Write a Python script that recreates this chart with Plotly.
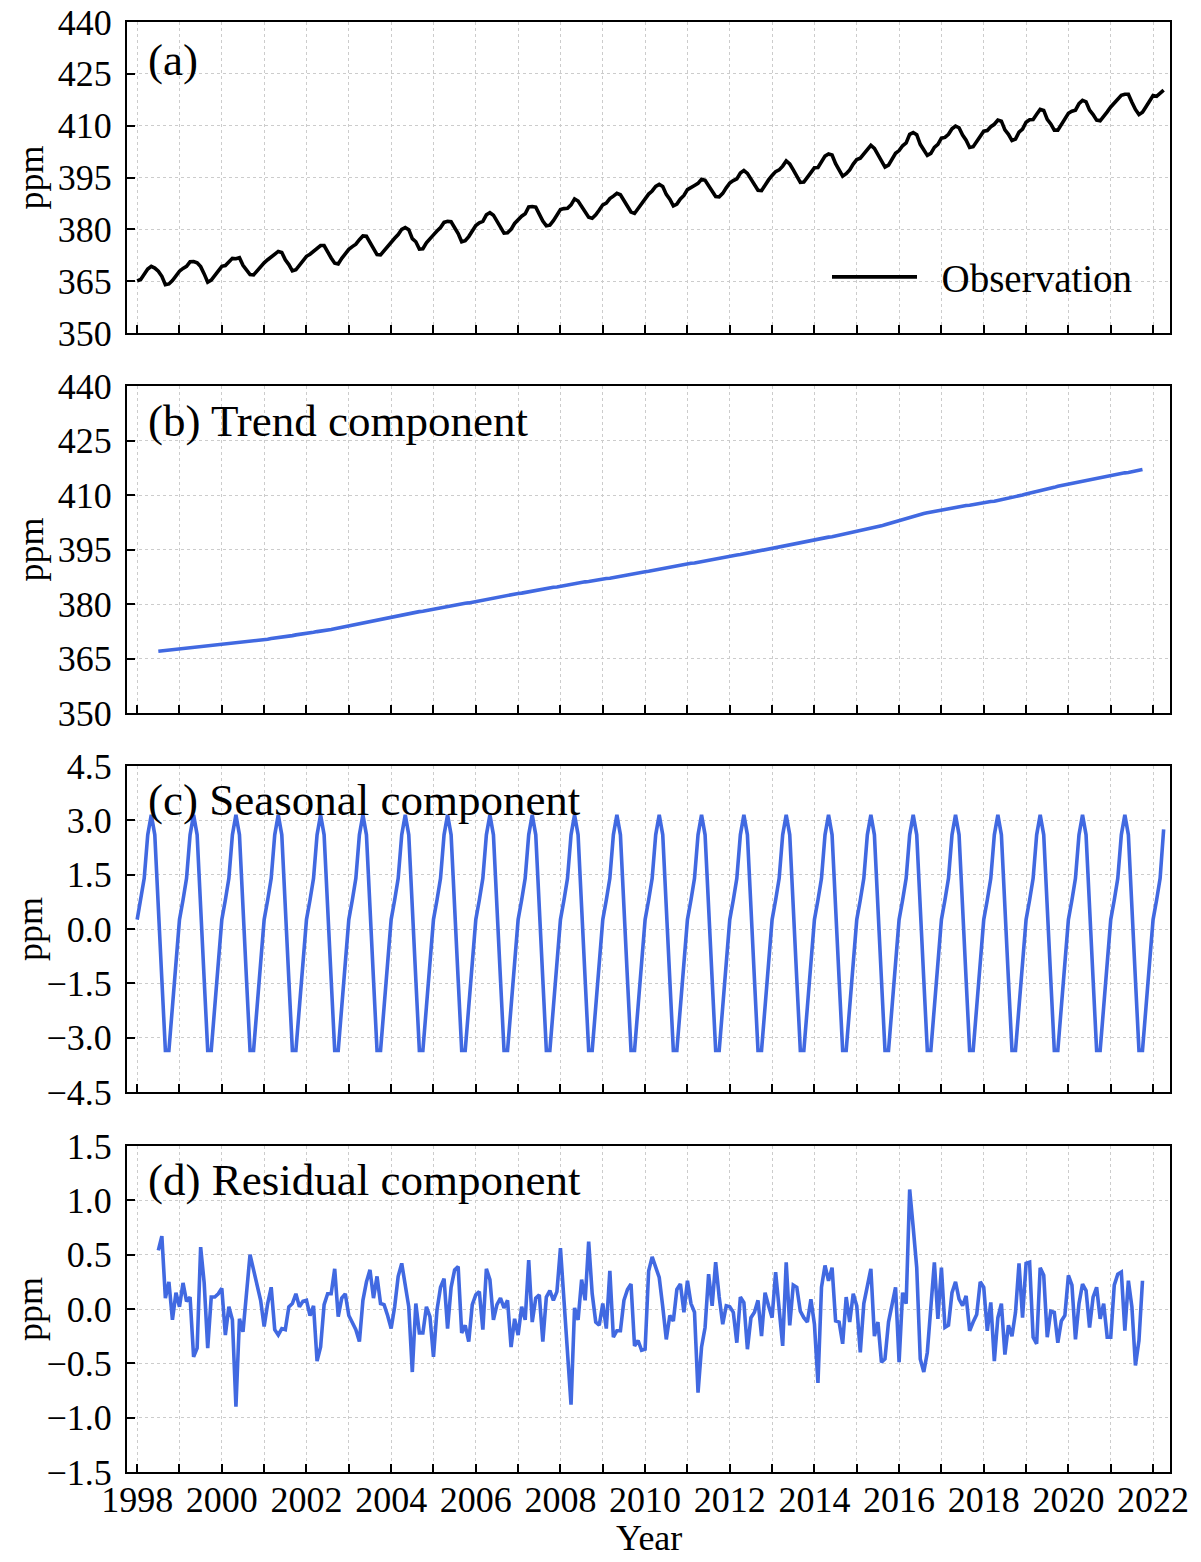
import plotly.graph_objects as go
from plotly.subplots import make_subplots

# ---------------- data (monthly) ----------------
OBS_START = 1998.0    # Jan 1998
COMP_START = 1998.5   # Jul 1998 (trend / residual)

observation = [
    365.1, 365.5, 367.0, 368.5, 369.3, 368.8, 367.9, 366.4, 364.0, 364.2, 365.2, 366.7,  # 1998
    367.9, 368.7, 369.3, 370.6, 370.7, 370.3, 369.2, 367.1, 364.7, 365.3, 366.6, 367.9,  # 1999
    369.3, 369.5, 370.4, 371.6, 371.5, 371.8, 369.6, 368.3, 366.9, 366.8, 368.0, 369.2,  # 2000
    370.3, 371.2, 372.1, 373.0, 373.6, 373.3, 371.2, 369.8, 368.0, 368.3, 369.5, 370.9,  # 2001
    372.2, 372.8, 373.6, 374.5, 375.3, 375.3, 373.3, 371.7, 370.2, 370.0, 371.6, 373.0,  # 2002
    374.2, 375.0, 375.7, 377.0, 378.1, 378.0, 376.1, 374.2, 372.7, 372.6, 373.9, 375.2,  # 2003
    376.5, 377.4, 378.5, 380.0, 380.5, 379.9, 377.3, 376.4, 374.3, 374.4, 376.1, 377.4,  # 2004
    378.4, 379.5, 380.5, 382.0, 382.3, 382.2, 380.4, 378.8, 376.4, 376.7, 377.9, 379.6,  # 2005
    381.1, 381.9, 382.3, 384.2, 384.8, 384.1, 382.2, 380.7, 378.9, 379.0, 380.0, 381.7,  # 2006
    382.9, 383.8, 384.5, 386.5, 386.6, 386.4, 384.4, 382.4, 381.0, 381.2, 382.5, 383.9,  # 2007
    385.7, 386.0, 386.1, 387.1, 388.8, 388.2, 386.6, 384.8, 383.5, 383.2, 384.2, 385.6,  # 2008
    387.1, 387.6, 388.9, 389.6, 390.4, 390.0, 388.2, 386.7, 385.0, 384.6, 386.1, 387.4,  # 2009
    388.8, 390.2, 391.1, 392.4, 393.0, 392.4, 390.1, 388.7, 386.8, 387.3, 388.8, 389.8,  # 2010
    391.5, 392.0, 392.7, 393.3, 394.5, 394.2, 392.7, 390.8, 389.5, 389.4, 390.4, 392.0,  # 2011
    393.4, 394.1, 394.6, 396.3, 397.0, 396.2, 394.5, 393.0, 391.3, 391.2, 393.0, 394.3,  # 2012
    395.6, 396.7, 397.2, 398.3, 399.8, 398.9, 397.2, 395.6, 393.6, 393.7, 395.0, 396.6,  # 2013
    397.8, 397.9, 399.6, 401.2, 401.8, 401.5, 399.0, 397.4, 395.4, 396.1, 397.2, 398.9,  # 2014
    400.2, 400.6, 401.9, 403.4, 404.3, 403.4, 401.5, 399.6, 398.0, 398.6, 400.3, 402.0,  # 2015
    402.8, 404.2, 405.0, 407.5, 408.0, 407.4, 404.6, 402.9, 401.4, 402.0, 403.7, 404.6,  # 2016
    406.4, 406.6, 407.5, 409.1, 409.9, 409.4, 407.3, 405.8, 403.7, 403.9, 405.3, 407.0,  # 2017
    408.4, 408.6, 409.7, 410.4, 411.6, 411.3, 408.8, 407.5, 405.7, 406.1, 408.1, 409.0,  # 2018
    411.0, 411.7, 411.8, 413.3, 414.7, 414.4, 411.8, 410.5, 408.7, 408.7, 410.3, 411.8,  # 2019
    413.6, 414.2, 414.5, 416.4, 417.3, 416.9, 414.5, 413.2, 411.6, 411.4, 412.9, 414.0,  # 2020
    415.4, 416.5, 417.4, 418.8, 419.1, 419.1, 416.8, 414.7, 413.2, 413.9, 415.5, 417.0,  # 2021
    418.7, 418.5, 419.4, 420.3,                                                          # 2022
]

trend = [
    367.0, 367.1, 367.2, 367.3, 367.4, 367.5,                                            # 1998 Jul-Dec
    367.6, 367.7, 367.8, 367.9, 368.0, 368.1, 368.2, 368.3, 368.4, 368.5, 368.6, 368.7,  # 1999
    368.8, 368.9, 369.0, 369.1, 369.2, 369.3, 369.4, 369.5, 369.7, 369.8, 369.9, 370.1,  # 2000
    370.2, 370.3, 370.5, 370.6, 370.7, 370.9, 371.0, 371.2, 371.3, 371.5, 371.6, 371.8,  # 2001
    371.9, 372.1, 372.2, 372.4, 372.5, 372.7, 372.8, 373.0, 373.2, 373.4, 373.6, 373.8,  # 2002
    374.0, 374.3, 374.5, 374.7, 374.9, 375.1, 375.3, 375.5, 375.7, 375.9, 376.0, 376.2,  # 2003
    376.4, 376.6, 376.8, 377.0, 377.1, 377.3, 377.5, 377.7, 377.9, 378.0, 378.2, 378.4,  # 2004
    378.6, 378.7, 378.9, 379.1, 379.3, 379.4, 379.6, 379.8, 380.0, 380.2, 380.3, 380.5,  # 2005
    380.7, 380.9, 381.1, 381.2, 381.4, 381.6, 381.8, 382.0, 382.2, 382.3, 382.5, 382.7,  # 2006
    382.9, 383.0, 383.2, 383.4, 383.6, 383.7, 383.9, 384.1, 384.2, 384.4, 384.6, 384.7,  # 2007
    384.9, 385.1, 385.2, 385.4, 385.6, 385.7, 385.9, 386.1, 386.2, 386.4, 386.5, 386.7,  # 2008
    386.8, 387.0, 387.1, 387.3, 387.4, 387.6, 387.7, 387.9, 388.1, 388.3, 388.5, 388.7,  # 2009
    388.9, 389.0, 389.2, 389.4, 389.6, 389.8, 390.0, 390.2, 390.3, 390.5, 390.7, 390.8,  # 2010
    391.0, 391.2, 391.3, 391.5, 391.7, 391.8, 392.0, 392.2, 392.4, 392.6, 392.7, 392.9,  # 2011
    393.1, 393.3, 393.5, 393.6, 393.8, 394.0, 394.2, 394.4, 394.6, 394.8, 395.0, 395.2,  # 2012
    395.4, 395.6, 395.8, 396.0, 396.2, 396.4, 396.6, 396.8, 397.0, 397.1, 397.3, 397.5,  # 2013
    397.7, 397.8, 398.0, 398.2, 398.4, 398.5, 398.7, 398.9, 399.1, 399.3, 399.5, 399.7,  # 2014
    399.9, 400.2, 400.4, 400.6, 400.8, 401.0, 401.2, 401.5, 401.8, 402.1, 402.4, 402.7,  # 2015
    403.0, 403.2, 403.5, 403.8, 404.1, 404.4, 404.7, 404.9, 405.1, 405.3, 405.4, 405.6,  # 2016
    405.8, 406.0, 406.2, 406.3, 406.5, 406.7, 406.9, 407.1, 407.2, 407.4, 407.5, 407.7,  # 2017
    407.9, 408.0, 408.2, 408.3, 408.5, 408.6, 408.8, 409.0, 409.3, 409.5, 409.8, 410.0,  # 2018
    410.3, 410.5, 410.7, 411.0, 411.2, 411.5, 411.7, 411.9, 412.1, 412.4, 412.6, 412.8,  # 2019
    413.0, 413.2, 413.4, 413.7, 413.9, 414.1, 414.3, 414.5, 414.7, 414.8, 415.0, 415.2,  # 2020
    415.4, 415.5, 415.7, 415.9, 416.1, 416.2, 416.4, 416.6, 416.8, 417.0,                # 2021 Jan-Oct
]

seasonal = [
    0.26, 0.8, 1.4, 2.6, 3.15, 2.6, 0.4, -1.4, -3.35, -3.35, -2.15, -0.95,  # 1998
    0.26, 0.8, 1.4, 2.6, 3.15, 2.6, 0.4, -1.4, -3.35, -3.35, -2.15, -0.95,  # 1999
    0.26, 0.8, 1.4, 2.6, 3.15, 2.6, 0.4, -1.4, -3.35, -3.35, -2.15, -0.95,  # 2000
    0.26, 0.8, 1.4, 2.6, 3.15, 2.6, 0.4, -1.4, -3.35, -3.35, -2.15, -0.95,  # 2001
    0.26, 0.8, 1.4, 2.6, 3.15, 2.6, 0.4, -1.4, -3.35, -3.35, -2.15, -0.95,  # 2002
    0.26, 0.8, 1.4, 2.6, 3.15, 2.6, 0.4, -1.4, -3.35, -3.35, -2.15, -0.95,  # 2003
    0.26, 0.8, 1.4, 2.6, 3.15, 2.6, 0.4, -1.4, -3.35, -3.35, -2.15, -0.95,  # 2004
    0.26, 0.8, 1.4, 2.6, 3.15, 2.6, 0.4, -1.4, -3.35, -3.35, -2.15, -0.95,  # 2005
    0.26, 0.8, 1.4, 2.6, 3.15, 2.6, 0.4, -1.4, -3.35, -3.35, -2.15, -0.95,  # 2006
    0.26, 0.8, 1.4, 2.6, 3.15, 2.6, 0.4, -1.4, -3.35, -3.35, -2.15, -0.95,  # 2007
    0.26, 0.8, 1.4, 2.6, 3.15, 2.6, 0.4, -1.4, -3.35, -3.35, -2.15, -0.95,  # 2008
    0.26, 0.8, 1.4, 2.6, 3.15, 2.6, 0.4, -1.4, -3.35, -3.35, -2.15, -0.95,  # 2009
    0.26, 0.8, 1.4, 2.6, 3.15, 2.6, 0.4, -1.4, -3.35, -3.35, -2.15, -0.95,  # 2010
    0.26, 0.8, 1.4, 2.6, 3.15, 2.6, 0.4, -1.4, -3.35, -3.35, -2.15, -0.95,  # 2011
    0.26, 0.8, 1.4, 2.6, 3.15, 2.6, 0.4, -1.4, -3.35, -3.35, -2.15, -0.95,  # 2012
    0.26, 0.8, 1.4, 2.6, 3.15, 2.6, 0.4, -1.4, -3.35, -3.35, -2.15, -0.95,  # 2013
    0.26, 0.8, 1.4, 2.6, 3.15, 2.6, 0.4, -1.4, -3.35, -3.35, -2.15, -0.95,  # 2014
    0.26, 0.8, 1.4, 2.6, 3.15, 2.6, 0.4, -1.4, -3.35, -3.35, -2.15, -0.95,  # 2015
    0.26, 0.8, 1.4, 2.6, 3.15, 2.6, 0.4, -1.4, -3.35, -3.35, -2.15, -0.95,  # 2016
    0.26, 0.8, 1.4, 2.6, 3.15, 2.6, 0.4, -1.4, -3.35, -3.35, -2.15, -0.95,  # 2017
    0.26, 0.8, 1.4, 2.6, 3.15, 2.6, 0.4, -1.4, -3.35, -3.35, -2.15, -0.95,  # 2018
    0.26, 0.8, 1.4, 2.6, 3.15, 2.6, 0.4, -1.4, -3.35, -3.35, -2.15, -0.95,  # 2019
    0.26, 0.8, 1.4, 2.6, 3.15, 2.6, 0.4, -1.4, -3.35, -3.35, -2.15, -0.95,  # 2020
    0.26, 0.8, 1.4, 2.6, 3.15, 2.6, 0.4, -1.4, -3.35, -3.35, -2.15, -0.95,  # 2021
    0.26, 0.8, 1.4, 2.75,                                                   # 2022
]

residual = [
    0.54, 0.67, 0.10, 0.25, -0.10, 0.15,                                          # 1998 Jul-Dec
    0.02, 0.24, 0.07, 0.11, -0.44, -0.36, 0.57, 0.24, -0.36, 0.11, 0.11, 0.14,   # 1999
    0.19, -0.24, 0.02, -0.10, -0.90, -0.09, -0.21, 0.16, 0.50, 0.36, 0.22, 0.08,  # 2000
    -0.16, 0.05, 0.20, -0.19, -0.24, -0.18, -0.19, 0.02, 0.05, 0.14, 0.02, 0.07,  # 2001
    0.08, -0.06, 0.03, -0.48, -0.35, 0.04, 0.14, 0.14, 0.37, -0.07, 0.10, 0.14,   # 2002
    -0.06, -0.13, -0.19, -0.30, 0.08, 0.25, 0.36, 0.10, 0.30, 0.05, 0.04, -0.06,  # 2003
    -0.18, 0.02, 0.30, 0.42, 0.24, 0.02, -0.58, 0.05, -0.22, -0.22, 0.02, -0.07,  # 2004
    -0.44, -0.01, 0.20, 0.28, -0.18, 0.20, 0.36, 0.39, -0.22, -0.15, -0.30, 0.04, # 2005
    0.13, 0.16, -0.19, 0.37, 0.27, -0.10, 0.04, 0.10, 0.01, 0.08, -0.35, -0.09,   # 2006
    -0.24, 0.02, -0.10, 0.45, -0.12, 0.10, 0.13, -0.30, 0.11, 0.17, 0.08, 0.16,   # 2007
    0.56, 0.08, -0.47, -0.88, 0.01, -0.10, 0.27, 0.08, 0.62, 0.14, -0.12, -0.15,  # 2008
    0.05, -0.18, 0.35, -0.26, -0.20, -0.20, 0.08, 0.18, 0.23, -0.34, -0.29, -0.38,# 2009
    -0.37, 0.35, 0.48, 0.38, 0.29, 0.02, -0.28, -0.06, -0.11, 0.18, 0.23, -0.03,  # 2010
    0.26, 0.05, -0.03, -0.77, -0.35, -0.17, 0.32, 0.03, 0.43, 0.11, -0.14, 0.03,  # 2011
    0.02, -0.03, -0.31, 0.11, 0.06, -0.37, -0.08, -0.03, 0.08, -0.25, 0.15, 0.03, # 2012
    -0.08, 0.34, 0.02, -0.34, 0.43, -0.15, 0.22, 0.20, -0.02, -0.08, -0.12, 0.09, # 2013
    -0.14, -0.68, 0.20, 0.40, 0.26, 0.38, -0.11, -0.12, -0.32, 0.11, -0.12, 0.14, # 2014
    0.03, -0.40, 0.05, 0.20, 0.37, -0.25, -0.12, -0.49, -0.46, -0.12, 0.03, 0.20, # 2015
    -0.49, 0.15, 0.05, 1.10, 0.75, 0.38, -0.46, -0.58, -0.40, 0.05, 0.43, -0.09,  # 2016
    0.38, -0.17, -0.15, 0.15, 0.25, 0.09, 0.03, 0.12, -0.20, -0.12, -0.05, 0.25,  # 2017
    0.20, -0.20, 0.06, -0.48, -0.08, 0.05, -0.42, -0.15, -0.25, -0.03, 0.42, -0.08,  # 2018
    0.42, 0.43, -0.26, -0.32, 0.38, 0.31, -0.26, -0.02, -0.03, -0.31, -0.11, -0.06,  # 2019
    0.31, 0.22, -0.28, 0.05, 0.23, 0.17, -0.17, 0.11, 0.20, -0.09, 0.05, -0.26,   # 2020
    -0.26, 0.22, 0.32, 0.34, -0.20, 0.26, 0.02, -0.52, -0.29, 0.26,              # 2021 Jan-Oct
]

ppm_ticks = [350, 365, 380, 395, 410, 425, 440]
seasonal_ticks = [-4.5, -3.0, -1.5, 0.0, 1.5, 3.0, 4.5]
residual_ticks = [-1.5, -1.0, -0.5, 0.0, 0.5, 1.0, 1.5]
year_ticks = list(range(1998, 2023, 2))
panel_labels = ["(a)", "(b) Trend component", "(c) Seasonal component", "(d) Residual component"]

obs_x = [OBS_START + i / 12 for i in range(len(observation))]
comp_x = [COMP_START + i / 12 for i in range(len(trend))]
seas_x = [OBS_START + i / 12 for i in range(len(seasonal))]

# ---------------- figure ----------------
FONT = "Liberation Serif, Times New Roman, serif"
BLUE = "#4169E1"
W, H = 1201, 1562
ML, MR, MT, MB = 127, 31, 22, 90
LW = 3.6

fig = make_subplots(rows=4, cols=1, shared_xaxes=True)
fig.add_trace(go.Scatter(x=obs_x, y=observation, mode="lines", name="\u00a0\u00a0Observation",
                         line=dict(color="black", width=LW), showlegend=True), row=1, col=1)
fig.add_trace(go.Scatter(x=comp_x, y=trend, mode="lines", name="Trend",
                         line=dict(color=BLUE, width=LW), showlegend=False), row=2, col=1)
fig.add_trace(go.Scatter(x=seas_x, y=seasonal, mode="lines", name="Seasonal",
                         line=dict(color=BLUE, width=LW), showlegend=False), row=3, col=1)
fig.add_trace(go.Scatter(x=comp_x, y=residual, mode="lines", name="Residual",
                         line=dict(color=BLUE, width=LW), showlegend=False), row=4, col=1)

plot_h = H - MT - MB


def dom(top_px, bot_px):
    return [(H - MB - bot_px) / plot_h, (H - MB - top_px) / plot_h]


domains = [dom(22, 333), dom(386, 713), dom(766, 1092), dom(1146, 1472)]

grid = dict(showgrid=True, gridcolor="#cccccc", griddash="dot", gridwidth=1.3)
common = dict(showline=True, linecolor="black", linewidth=2, mirror=True,
              ticks="inside", ticklen=8, tickwidth=2, tickcolor="black",
              zeroline=False, automargin=False,
              tickfont=dict(family=FONT, size=36, color="black"), **grid)

for i in range(1, 5):
    fig.update_xaxes(range=[1997.76, 2022.40], tickvals=year_ticks,
                     ticktext=[str(y) for y in year_ticks],
                     minor=dict(dtick=1, tick0=1998, ticks="inside", ticklen=8, tickwidth=2,
                                tickcolor="black", **grid),
                     ticklabelstandoff=-5, **common, row=i, col=1)


def fmt(v):
    return f"{v:.1f}".replace("-", "\u2212")


fig.update_yaxes(range=[350, 440], tickvals=ppm_ticks, ticktext=[str(v) for v in ppm_ticks],
                 domain=domains[0], ticklabelstandoff=6, **common, row=1, col=1)
fig.update_yaxes(range=[350, 440], tickvals=ppm_ticks, ticktext=[str(v) for v in ppm_ticks],
                 domain=domains[1], ticklabelstandoff=6, **common, row=2, col=1)
fig.update_yaxes(range=[-4.5, 4.5], tickvals=seasonal_ticks, ticktext=[fmt(v) for v in seasonal_ticks],
                 domain=domains[2], ticklabelstandoff=6, **common, row=3, col=1)
fig.update_yaxes(range=[-1.5, 1.5], tickvals=residual_ticks, ticktext=[fmt(v) for v in residual_ticks],
                 domain=domains[3], ticklabelstandoff=6, **common, row=4, col=1)

plot_w = W - ML - MR
annotations = []
label_centers = [60, 421, 800, 1180]
for txt, cy in zip(panel_labels, label_centers):
    annotations.append(dict(text=txt, xref="paper", yref="paper",
                            x=(146 - ML) / plot_w, y=(H - MB - cy) / plot_h,
                            xanchor="left", yanchor="middle", showarrow=False,
                            font=dict(family=FONT, size=45, color="black")))
for d in domains:
    annotations.append(dict(text="ppm", xref="paper", yref="paper",
                            x=(30 - ML) / plot_w, y=(d[0] + d[1]) / 2, textangle=-90,
                            xanchor="center", yanchor="middle", showarrow=False,
                            font=dict(family=FONT, size=36, color="black")))
annotations.append(dict(text="Year", xref="paper", yref="paper",
                        x=0.5, y=(H - MB - 1538) / plot_h, xanchor="center", yanchor="middle",
                        showarrow=False, font=dict(family=FONT, size=36, color="black")))

fig.update_layout(
    width=W, height=H,
    margin=dict(l=ML, r=MR, t=MT, b=MB),
    paper_bgcolor="white", plot_bgcolor="white",
    font=dict(family=FONT, color="black"),
    annotations=annotations,
    legend=dict(x=(827 - ML) / plot_w, y=(H - MB - 277) / plot_h,
                xanchor="left", yanchor="middle",
                bgcolor="rgba(0,0,0,0)", borderwidth=0, itemwidth=85,
                font=dict(family=FONT, size=39, color="black")),
)

fig.write_html("out.html")
